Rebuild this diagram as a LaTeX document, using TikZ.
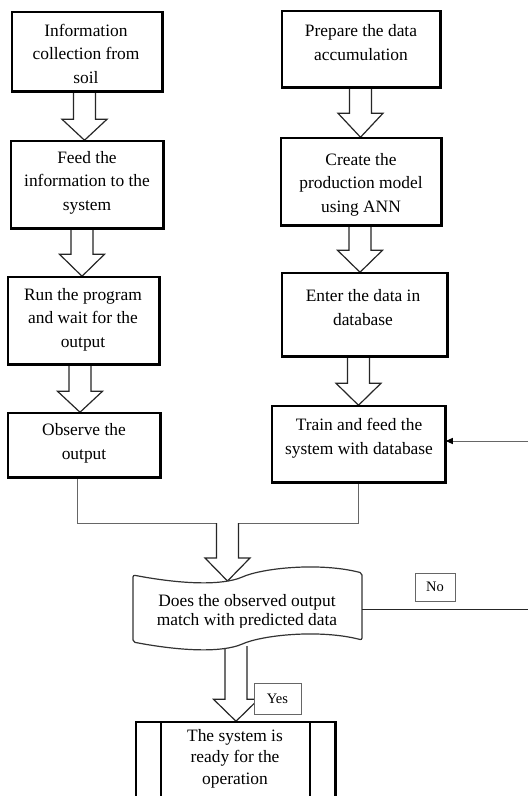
\documentclass[tikz,border=0pt]{standalone}
\usepackage{fontspec}
\setmainfont{Liberation Serif}
\usetikzlibrary{calc,arrows.meta}
\tikzset{
  box/.style={draw=black, line width=1.5pt, inner sep=0pt, fill=white},
  txt/.style={align=center, inner sep=0pt, anchor=base, text=black,
    font=\fontsize{17.4}{23.5}\selectfont},
  blk/.style={draw=black!85, line width=1.2pt, fill=white, line join=miter},
  conn/.style={draw=black!60, line width=1pt},
  tag/.style={draw=black!60, line width=1pt, fill=white, inner sep=0pt,
    font=\fontsize{14.5}{17}\selectfont},
  tape/.style={draw=black!80, line width=1.2pt, fill=white},
}
\newcommand{\blockarr}[4]{%
  \draw[blk] let \p1=(#1), \p2=(#2) in
    ({(#3-11)*1pt},\y1) -- ({(#3-11)*1pt},{\y2+#4pt}) -- ({(#3-22.5)*1pt},{\y2+#4pt})
    -- ({#3*1pt},\y2) -- ({(#3+22.5)*1pt},{\y2+#4pt}) -- ({(#3+11)*1pt},{\y2+#4pt})
    -- ({(#3+11)*1pt},\y1);}
\begin{document}
\begin{tikzpicture}[x=1pt,y=-1pt]
\useasboundingbox (0,0) rectangle (528,796);
\clip (0,0) rectangle (528,796);
\fill[white] (0,0) rectangle (528,796);

% boxes (positions)
\node[box, minimum width=150pt, minimum height=79pt] (b1) at (87,51.5) {};
\node[box, minimum width=152pt, minimum height=87pt] (b2) at (87,184.5) {};
\node[box, minimum width=151pt, minimum height=87pt] (b3) at (83.5,320.5) {};
\node[box, minimum width=152pt, minimum height=64pt] (b4) at (84,445) {};
\node[box, minimum width=158pt, minimum height=76pt] (r1) at (361,49) {};
\node[box, minimum width=160pt, minimum height=87pt] (r2) at (361,181.5) {};
\node[box, minimum width=165pt, minimum height=83pt] (r3) at (364.5,314.5) {};
\node[box, minimum width=173pt, minimum height=76pt] (r4) at (358.5,444) {};
\node[box, minimum width=199pt, minimum height=110pt] (fin) at (235.5,777) {};

% helper coordinates
\coordinate (j1) at (77,523);
\coordinate (j2) at (358,523);
\coordinate (j3) at (227.5,523);
\coordinate (dtop) at (227.5,581);
\coordinate (dbot) at (236,646);
\coordinate (dright) at (362,609);
\coordinate (fb) at (528,441);
\coordinate (edge) at (528,609);

% join connectors
\draw[conn] (b4.south -| j1) -- (j1) -- (j2) -- (r4.south -| j2);

% block arrows
\blockarr{b1.south}{b2.north}{84.5}{21}
\blockarr{b2.south}{b3.north}{82}{22}
\blockarr{b3.south}{b4.north}{80}{21}
\blockarr{r1.south}{r2.north}{360.5}{24}
\blockarr{r2.south}{r3.north}{360}{22}
\blockarr{r3.south}{r4.north}{358.5}{22}
\blockarr{j3}{dtop}{227.5}{23}
\blockarr{dbot}{fin.north}{236}{22}

% redraw boxes on top of arrow ends
\foreach \n in {b1,b2,b3,b4,r1,r2,r3,r4}{
  \draw[line width=1.5pt] (\n.north west) rectangle (\n.south east);
}

% decision (punched tape)
\draw[tape, rounded corners=2pt] (133,575)
  .. controls (175,583) and (215,586) .. (240,578)
  .. controls (262,568) and (320,562) .. (362,573)
  -- (362,640)
  .. controls (320,629) and (262,635) .. (240,645)
  .. controls (215,653) and (175,650) .. (133,642) -- cycle;

% final box inner lines
\draw[line width=1.5pt] (fin.north west) rectangle (fin.south east);
\draw[line width=1.5pt] ([xshift=-74.5pt]fin.north) -- ([xshift=-74.5pt]fin.south);
\draw[line width=1.5pt] ([xshift=74.5pt]fin.north) -- ([xshift=74.5pt]fin.south);

% feedback arrow and No line
\draw[conn, -{Triangle[length=7pt,width=6pt,color=black]}] (fb) -- (fb -| r4.east);
\draw[conn, draw=black!85] (dright) -- (edge);

% texts (anchor = baseline of last line)
\node[txt] (t1) at (86,83) {Information\\collection from\\soil};
\node[txt] (t2) at (87,210) {Feed the\\information to the\\system};
\node[txt] (t3) at (83,347) {Run the program\\and wait for the\\output};
\node[txt] (t4) at (84,459) {Observe the\\output};
\node[txt] (u1) at (361,60) {Prepare the data\\accumulation};
\node[txt] (u2) at (361,212) {Create the\\production model\\using ANN};
\node[txt] (u3) at (363,325) {Enter the data in\\database};
\node[txt] (u4) at (359,454) {Train and feed the\\system with database};
\node[txt, font=\fontsize{17.4}{21.5}\selectfont] (t5) at (235,784) {The system is\\ready for the\\operation};
\begin{scope}
  \clip (133,560) rectangle (362,627.5);
  \node[txt, font=\fontsize{17.4}{19}\selectfont] (dq) at (247,625.5) {Does the observed output\\match with predicted data};
\end{scope}

% tags
\node[tag, minimum width=47pt, minimum height=31pt] (yes) at (277.5,698.5) {Yes};
\node[tag, minimum width=40pt, minimum height=28pt] (no) at (435,587) {No};
\end{tikzpicture}
\end{document}
